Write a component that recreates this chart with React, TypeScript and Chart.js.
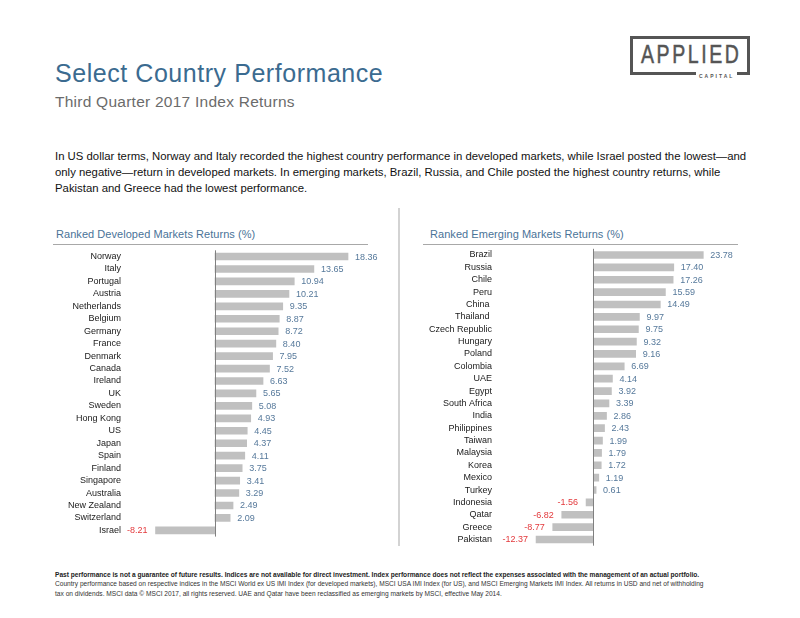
import React, { useEffect, useRef } from "react";
import { Chart, registerables } from "chart.js";

Chart.register(...registerables);

const FONT = '"Liberation Sans", Arial, Helvetica, sans-serif';

const devLabels = [
  "Norway", "Italy", "Portugal", "Austria", "Netherlands", "Belgium", "Germany", "France",
  "Denmark", "Canada", "Ireland", "UK", "Sweden", "Hong Kong", "US", "Japan", "Spain",
  "Finland", "Singapore", "Australia", "New Zealand", "Switzerland", "Israel",
];
const devValues = [
  18.36, 13.65, 10.94, 10.21, 9.35, 8.87, 8.72, 8.4, 7.95, 7.52, 6.63, 5.65, 5.08, 4.93,
  4.45, 4.37, 4.11, 3.75, 3.41, 3.29, 2.49, 2.09, -8.21,
];

const emLabels = [
  "Brazil", "Russia", "Chile", "Peru", "China ", "Thailand ", "Czech Republic", "Hungary",
  "Poland", "Colombia", "UAE", "Egypt", "South Africa", "India", "Philippines", "Taiwan",
  "Malaysia", "Korea", "Mexico", "Turkey", "Indonesia", "Qatar", "Greece", "Pakistan",
];
const emValues = [
  23.78, 17.4, 17.26, 15.59, 14.49, 9.97, 9.75, 9.32, 9.16, 6.69, 4.14, 3.92, 3.39, 2.86,
  2.43, 1.99, 1.79, 1.72, 1.19, 0.61, -1.56, -6.82, -8.77, -12.37,
];

const POS_COLOR = "#56799b";
const NEG_COLOR = "#e3393c";
const BAR_COLOR = "#c0c0c0";

const valuePlugin = {
  id: "valueLabels",
  afterDatasetsDraw(chart: any) {
    const ctx = chart.ctx;
    const meta = chart.getDatasetMeta(0);
    const data = chart.data.datasets[0].data as number[];
    const xs = chart.scales.x;
    const zx = Math.round(xs.getPixelForValue(0)) + 0.5;
    ctx.save();
    ctx.strokeStyle = "#808080";
    ctx.lineWidth = 1;
    ctx.beginPath();
    ctx.moveTo(zx, chart.chartArea.top);
    ctx.lineTo(zx, chart.chartArea.bottom);
    ctx.stroke();
    ctx.font = `9px ${FONT}`;
    ctx.textBaseline = "middle";
    meta.data.forEach((el: any, i: number) => {
      const v = data[i];
      const txt = v.toFixed(2);
      if (v >= 0) {
        ctx.fillStyle = POS_COLOR;
        ctx.textAlign = "left";
        ctx.fillText(txt, el.x + 7, el.y + 0.5);
      } else {
        ctx.fillStyle = NEG_COLOR;
        ctx.textAlign = "right";
        ctx.fillText(txt, el.x - 8, el.y + 0.5);
      }
    });
    ctx.restore();
  },
};

type BarProps = {
  labels: string[];
  values: number[];
  width: number;
  height: number;
  min: number;
  max: number;
  axisWidth: number;
  tickPad: number;
  padTop: number;
  padBottom: number;
  padRight: number;
};

function RankedBars(p: BarProps) {
  const ref = useRef<HTMLCanvasElement | null>(null);
  useEffect(() => {
    if (!ref.current) return;
    const chart = new Chart(ref.current, {
      type: "bar",
      data: {
        labels: p.labels,
        datasets: [
          {
            data: p.values,
            backgroundColor: BAR_COLOR,
            borderWidth: 0,
            barThickness: 7,
          },
        ],
      },
      options: {
        indexAxis: "y",
        animation: false,
        responsive: false,
        maintainAspectRatio: false,
        layout: { padding: { top: p.padTop, bottom: p.padBottom, left: 0, right: p.padRight } },
        plugins: { legend: { display: false }, tooltip: { enabled: false } },
        scales: {
          x: { display: false, min: p.min, max: p.max },
          y: {
            grid: { display: false, drawTicks: false },
            border: { display: false },
            ticks: {
              autoSkip: false,
              padding: p.tickPad,
              color: "#1a1a1a",
              font: { family: FONT, size: 9 },
            },
            afterFit: (s: any) => {
              s.width = p.axisWidth;
              s.paddingTop = 0;
              s.paddingBottom = 0;
            },
          },
        },
      } as any,
      plugins: [valuePlugin],
    });
    return () => chart.destroy();
  }, []);
  return <canvas ref={ref} width={p.width} height={p.height} style={{ width: p.width, height: p.height, display: "block" }} />;
}

const abs = (left: number, top: number, extra: any = {}) => ({
  position: "absolute" as const,
  left,
  top,
  ...extra,
});

export default function App() {
  return (
    <div
      style={{
        position: "absolute",
        left: 0,
        top: 0,
        width: 800,
        height: 618,
        background: "#fff",
        fontFamily: FONT,
        overflow: "hidden",
      }}
    >
      {/* Logo */}
      <div
        style={abs(630, 36, {
          width: 114,
          height: 33,
          border: "3px solid #555",
        })}
      />
      <div
        style={abs(641, 41.7, {
          fontFamily: FONT,
          fontSize: 25,
          lineHeight: "25px",
          letterSpacing: 3.3,
          color: "#555",
          whiteSpace: "nowrap",
          transform: "scaleX(0.78)",
          transformOrigin: "left top",
          WebkitTextStroke: "0.5px #555",
        })}
      >
        APPLIED
      </div>
      <div
        style={abs(696, 72, {
          background: "#fff",
          padding: "0 3px",
          fontSize: 5,
          lineHeight: "8px",
          letterSpacing: 2,
          color: "#555",
          fontWeight: "bold",
        })}
      >
        CAPITAL
      </div>

      {/* Titles */}
      <div style={abs(55, 61, { fontSize: 25, lineHeight: "25px", color: "#3b6b90", whiteSpace: "nowrap", letterSpacing: 0.55 })}>
        Select Country Performance
      </div>
      <div style={abs(55, 93.5, { fontSize: 15.5, lineHeight: "15.5px", color: "#6b6b6b", whiteSpace: "nowrap", letterSpacing: 0.25 })}>
        Third Quarter 2017 Index Returns
      </div>

      <div style={abs(55, 147.5, { fontSize: 11.35, lineHeight: "16px", color: "#111", whiteSpace: "nowrap" })}>
        In US dollar terms, Norway and Italy recorded the highest country performance in developed markets, while Israel posted the lowest—and
        <br />
        only negative—return in developed markets. In emerging markets, Brazil, Russia, and Chile posted the highest country returns, while
        <br />
        Pakistan and Greece had the lowest performance.
      </div>

      {/* Divider */}
      <div style={abs(397.5, 208, { width: 2, height: 338, background: "#d3d3d3" })} />

      {/* Chart titles */}
      <div style={abs(56, 229, { fontSize: 11, lineHeight: "11px", color: "#4a7398", whiteSpace: "nowrap", letterSpacing: 0.05 })}>
        Ranked Developed Markets Returns (%)
      </div>
      <div style={abs(53, 244, { width: 315, height: 1, background: "#a8a8a8" })} />
      <div style={abs(430, 229, { fontSize: 11, lineHeight: "11px", color: "#4a7398", whiteSpace: "nowrap", letterSpacing: 0.05 })}>
        Ranked Emerging Markets Returns (%)
      </div>
      <div style={abs(423, 244, { width: 315, height: 1, background: "#a8a8a8" })} />

      {/* Charts */}
      <div style={abs(40, 240)}>
        <RankedBars
          labels={devLabels}
          values={devValues}
          width={355}
          height={310}
          min={-10}
          max={22}
          axisWidth={102.56}
          tickPad={21.5}
          padTop={10.3}
          padBottom={13.4}
          padRight={20.6}
        />
      </div>
      <div style={abs(405, 240)}>
        <RankedBars
          labels={emLabels}
          values={emValues}
          width={355}
          height={315}
          min={-15}
          max={27}
          axisWidth={118.9}
          tickPad={31.9}
          padTop={8.8}
          padBottom={9.3}
          padRight={41.8}
        />
      </div>

      {/* Footer */}
      <div style={abs(55, 569.5, { fontSize: 6.6, lineHeight: "9.5px", color: "#333", whiteSpace: "nowrap" })}>
        <div style={{ fontWeight: "bold", color: "#222" }}>
          Past performance is not a guarantee of future results. Indices are not available for direct investment. Index performance does not reflect the expenses associated with the management of an actual portfolio.
        </div>
        <div>
          Country performance based on respective indices in the MSCI World ex US IMI Index (for developed markets), MSCI USA IMI Index (for US), and MSCI Emerging Markets IMI Index. All returns in USD and net of withholding
        </div>
        <div>
          tax on dividends. MSCI data © MSCI 2017, all rights reserved. UAE and Qatar have been reclassified as emerging markets by MSCI, effective May 2014.
        </div>
      </div>
    </div>
  );
}
